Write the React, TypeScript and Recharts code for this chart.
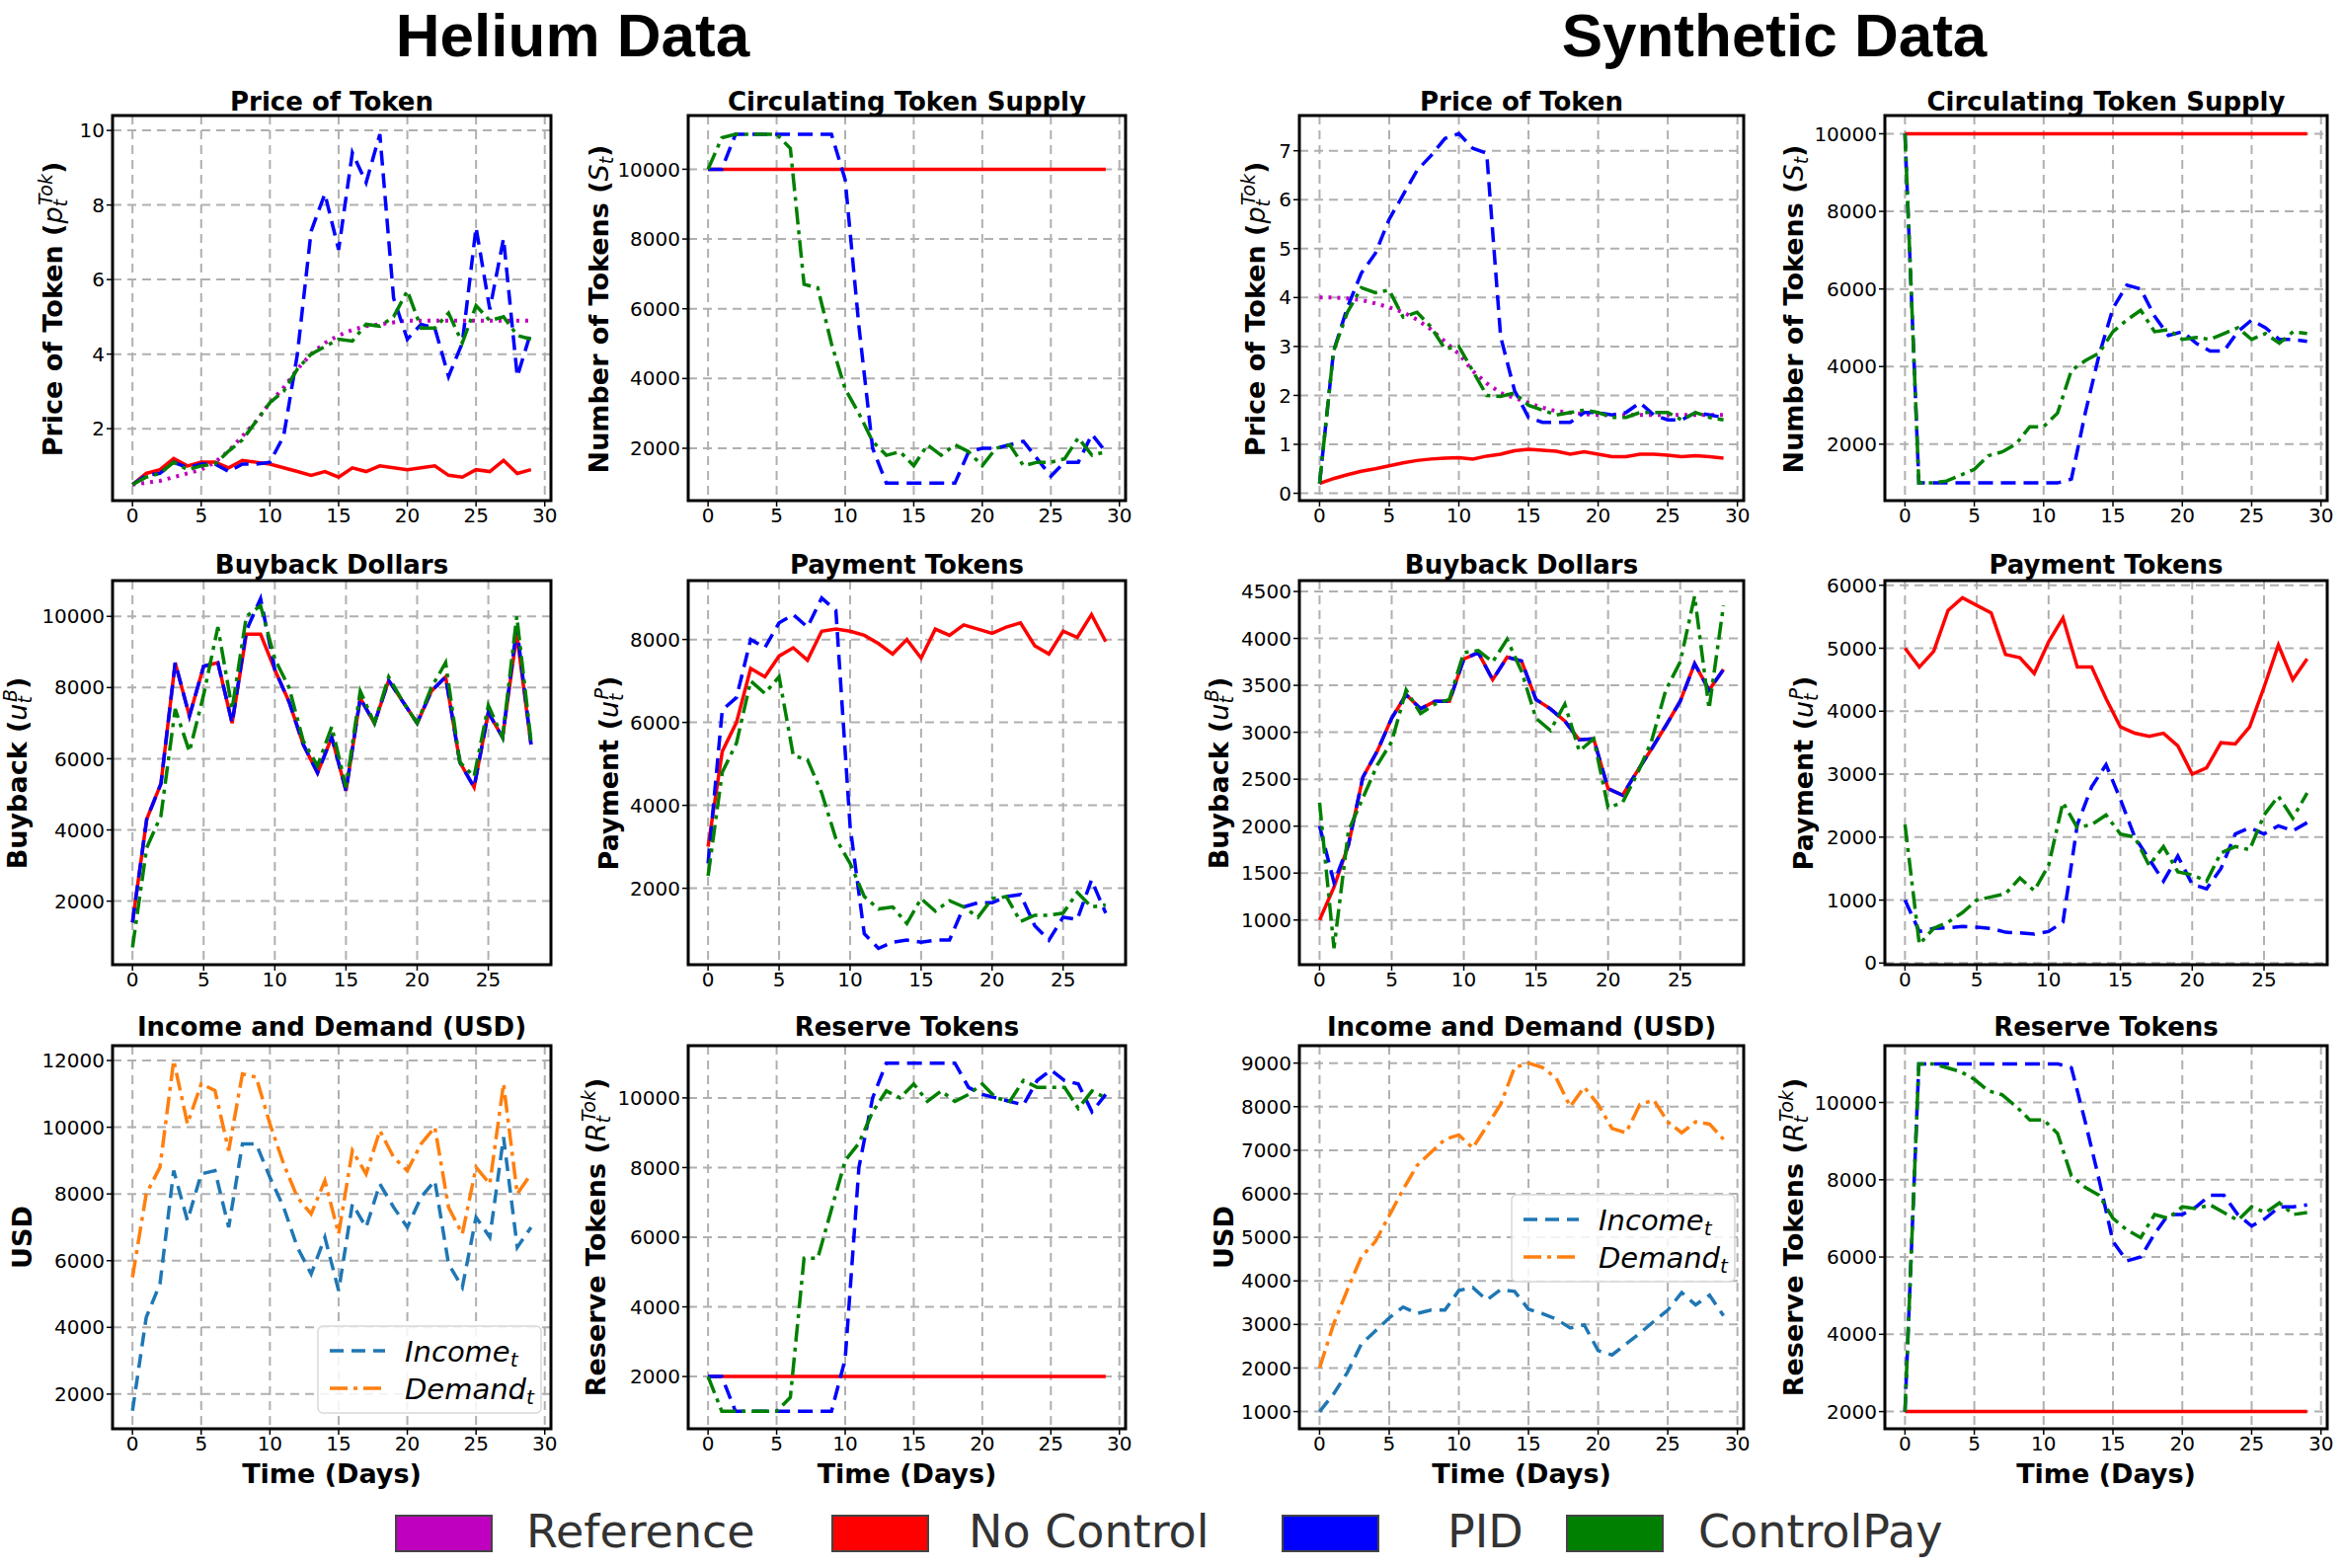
import React from 'react';
import { LineChart, Line, XAxis, YAxis, CartesianGrid } from 'recharts';

const FONT = 'DejaVu Sans, sans-serif';

// ---------- data ----------
const daysA = Array.from({ length: 30 }, (_, i) => i);
const daysB = Array.from({ length: 29 }, (_, i) => i);

const hePriceRef = [0.5,0.55,0.6,0.7,0.8,0.9,1.1,1.4,1.8,2.2,2.7,3.1,3.6,4.0,4.3,4.5,4.65,4.75,4.8,4.85,4.9,4.9,4.9,4.9,4.9,4.9,4.9,4.9,4.9,4.9];
const hePriceNo = [0.5,0.8,0.9,1.2,1.0,1.1,1.1,0.95,1.15,1.1,1.05,0.95,0.85,0.75,0.85,0.7,0.95,0.85,1.0,0.95,0.9,0.95,1.0,0.75,0.7,0.9,0.85,1.15,0.8,0.9];
const hePricePid = [0.5,0.75,0.8,1.1,0.95,1.05,1.05,0.85,1.05,1.05,1.1,1.8,4.0,7.3,8.3,6.8,9.4,8.6,9.9,5.5,4.4,4.8,4.7,3.4,4.3,7.4,5.2,7.1,3.4,4.6];
const hePriceCp = [0.5,0.7,0.8,1.1,0.9,1.0,1.05,1.4,1.7,2.2,2.7,3.0,3.6,4.0,4.2,4.4,4.35,4.8,4.75,5.0,5.7,4.7,4.7,5.1,4.3,5.3,4.9,5.0,4.5,4.4];

const heSupplyNo = Array(30).fill(10000);
const heSupplyPid = [10000,10000,11000,11000,11000,11000,11000,11000,11000,11000,9700,5500,2000,1000,1000,1000,1000,1000,1000,1900,2000,2000,2100,2200,1700,1200,1600,1600,2400,1900];
const heSupplyCp = [10000,10900,11000,11000,11000,11000,10600,6700,6600,5000,3700,3000,2200,1800,1900,1500,2100,1800,2100,1900,1500,2000,2100,1500,1600,1600,1700,2300,1800,1900];

const syPriceRef = [4.0,4.0,3.98,3.95,3.88,3.8,3.7,3.55,3.35,3.1,2.85,2.5,2.25,2.05,1.95,1.85,1.75,1.68,1.65,1.62,1.6,1.6,1.6,1.6,1.6,1.6,1.6,1.6,1.6,1.6];
const syPriceNo = [0.2,0.3,0.38,0.45,0.5,0.56,0.62,0.67,0.7,0.72,0.73,0.7,0.76,0.8,0.87,0.9,0.88,0.86,0.8,0.85,0.8,0.75,0.75,0.8,0.8,0.78,0.75,0.77,0.75,0.72];
const syPricePid = [0.2,2.9,3.8,4.5,4.9,5.6,6.1,6.6,6.9,7.25,7.35,7.05,6.95,3.2,2.1,1.55,1.45,1.45,1.45,1.65,1.65,1.6,1.65,1.85,1.6,1.5,1.5,1.65,1.6,1.55];
const syPriceCp = [0.2,2.9,3.7,4.2,4.1,4.15,3.6,3.7,3.4,2.95,3.0,2.5,2.0,1.98,2.05,1.8,1.7,1.6,1.65,1.7,1.65,1.55,1.55,1.65,1.65,1.65,1.5,1.65,1.55,1.5];

const sySupplyNo = Array(30).fill(10000);
const sySupplyPid = [10000,1000,1000,1000,1000,1000,1000,1000,1000,1000,1000,1000,1100,2800,4300,5500,6100,6000,5300,4800,4900,4600,4400,4400,4900,5200,5000,4700,4700,4650];
const sySupplyCp = [10000,1000,1000,1050,1200,1350,1700,1800,2000,2450,2450,2800,3900,4150,4350,4900,5200,5450,4900,4950,4700,4750,4700,4850,5000,4700,4850,4600,4900,4850];

const heBuyNo = [1400,4300,5300,8700,7200,8600,8700,7000,9500,9500,8500,7600,6400,5600,6600,5100,7700,7000,8200,7600,7000,7900,8300,5900,5200,7300,6600,9500,6400];
const heBuyPid = [1400,4300,5300,8700,7200,8600,8700,7000,9600,10500,8500,7600,6400,5600,6600,5100,7700,7000,8200,7600,7000,7900,8300,5900,5200,7300,6600,9700,6400];
const heBuyCp = [700,3500,4400,7400,6200,7800,9700,7400,10000,10300,8800,8000,6500,5800,6900,5200,7900,7000,8300,7600,7000,8000,8700,5900,5500,7500,6600,10000,6500];

const hePayNo = [3000,5300,6000,7300,7100,7600,7800,7500,8200,8250,8200,8100,7900,7650,8000,7550,8250,8100,8350,8250,8150,8300,8400,7850,7650,8200,8050,8600,7950];
const hePayPid = [2600,6300,6600,8000,7800,8400,8600,8300,9000,8700,3500,900,550,700,750,700,750,750,1550,1650,1650,1800,1850,1100,750,1300,1250,2200,1400];
const hePayCp = [2300,4800,5500,7000,6700,7100,5200,5100,4300,3200,2600,1800,1500,1550,1150,1750,1450,1700,1550,1300,1750,1800,1200,1350,1350,1400,1900,1550,1600];

const syBuyNo = [1000,1350,1800,2520,2800,3150,3400,3250,3330,3330,3780,3850,3560,3800,3760,3350,3250,3120,2920,2930,2400,2330,2580,2820,3070,3330,3730,3450,3670];
const syBuyPid = [2000,1400,1800,2520,2800,3150,3400,3250,3330,3330,3780,3850,3560,3800,3760,3350,3250,3120,2920,2930,2400,2330,2580,2820,3070,3330,3730,3450,3670];
const syBuyCp = [2250,700,1950,2300,2650,2900,3450,3200,3300,3350,3850,3870,3750,3990,3650,3150,3020,3300,2800,2930,2200,2250,2550,2900,3450,3750,4450,3250,4350];

const syPayNo = [5000,4700,4950,5600,5800,5680,5560,4900,4850,4600,5100,5480,4700,4700,4200,3750,3650,3600,3650,3450,3000,3100,3500,3480,3750,4380,5050,4500,4830];
const syPayPid = [1000,500,550,560,580,570,550,490,480,460,500,650,2200,2800,3150,2600,2000,1650,1300,1700,1250,1180,1500,2050,2150,2050,2180,2100,2230];
const syPayCp = [2200,300,550,650,800,1000,1050,1100,1350,1150,1550,2550,2150,2200,2350,2050,2000,1550,1850,1450,1400,1300,1750,1850,1800,2350,2650,2300,2700];

const heIncome = [1500,4300,5300,8700,7200,8600,8700,7000,9500,9500,8500,7600,6400,5600,6700,5100,7700,7000,8300,7600,7000,7900,8400,5900,5200,7300,6700,9700,6400,7000];
const heDemand = [5500,8000,8800,12000,10100,11300,11100,9300,11600,11500,10100,8900,7900,7400,8400,6800,9300,8600,9900,9100,8700,9500,10000,7600,6800,8800,8300,11300,8000,8600];

const heResNo = Array(30).fill(2000);
const heResPid = [2000,2000,1000,1000,1000,1000,1000,1000,1000,1000,2500,8000,10000,11000,11000,11000,11000,11000,11000,10300,10100,10000,9900,9800,10500,10800,10500,10400,9600,10100];
const heResCp = [2000,1000,1000,1000,1000,1000,1400,5400,5400,6800,8200,8700,9600,10200,10000,10400,9900,10200,9900,10100,10400,10000,9900,10500,10300,10300,10300,9700,10200,10000];

const syIncome = [1000,1400,1900,2550,2850,3150,3400,3250,3330,3330,3780,3850,3560,3800,3760,3350,3250,3120,2920,2990,2400,2300,2550,2800,3070,3330,3730,3450,3670,3200];
const syDemand = [2000,3000,3800,4550,4900,5500,6100,6650,6950,7250,7350,7050,7550,8050,8900,9000,8900,8650,8000,8450,8050,7500,7400,8050,8150,7650,7400,7650,7600,7250];

const syResNo = Array(30).fill(2000);
const syResPid = [2000,11000,11000,11000,11000,11000,11000,11000,11000,11000,11000,11000,10900,9500,8000,6400,5900,6000,6600,7100,7100,7300,7600,7600,7100,6800,7000,7300,7300,7350];
const syResCp = [2000,11000,11000,10900,10800,10600,10300,10200,9900,9550,9550,9200,8100,7800,7600,7000,6700,6500,7100,7000,7300,7250,7350,7150,6950,7300,7150,7400,7100,7150];

const ticksX30 = [0, 5, 10, 15, 20, 25, 30];
const ticksX25 = [0, 5, 10, 15, 20, 25];
const legendNames = ['Reference', 'No Control', 'PID', 'ControlPay'];

// ---------- styles ----------
const REF = { color: '#bf00bf', dash: '3 6', width: 4 };
const NO = { color: '#ff0000', dash: undefined as string | undefined, width: 3.5 };
const PID = { color: '#0000ff', dash: '15 8', width: 3.5 };
const CP = { color: '#008000', dash: '18 6 4 6', width: 3.5 };
const INC = { color: '#1f77b4', dash: '14 8', width: 3.5 };
const DEM = { color: '#ff7f0e', dash: '18 6 4 6', width: 3.5 };

const COLS = [[114, 558], [697, 1140], [1316, 1766], [1909, 2357]];
const ROWS = [[117, 507], [588, 977], [1059, 1447]];

type S = { values: number[]; st: { color: string; dash?: string; width: number } };
type P = { col: number; row: number; title: string; xs: number[]; xDomain: number[]; xTicks: number[]; yDomain: number[]; yTicks: number[]; series: S[] };

const range = (a: number, b: number, s: number) => { const r: number[] = []; for (let v = a; v <= b + 1e-9; v += s) r.push(v); return r; };

const panels: P[] = [
  { col: 0, row: 0, title: 'Price of Token', xs: daysA, xDomain: [-1.45, 30.45], xTicks: ticksX30, yDomain: [0.07, 10.4], yTicks: [2, 4, 6, 8, 10],
    series: [{ values: hePriceRef, st: REF }, { values: hePriceNo, st: NO }, { values: hePricePid, st: PID }, { values: hePriceCp, st: CP }] },
  { col: 1, row: 0, title: 'Circulating Token Supply', xs: daysA, xDomain: [-1.45, 30.45], xTicks: ticksX30, yDomain: [500, 11540], yTicks: range(2000, 10000, 2000),
    series: [{ values: heSupplyNo, st: NO }, { values: heSupplyPid, st: PID }, { values: heSupplyCp, st: CP }] },
  { col: 2, row: 0, title: 'Price of Token', xs: daysA, xDomain: [-1.45, 30.45], xTicks: ticksX30, yDomain: [-0.15, 7.72], yTicks: range(0, 7, 1),
    series: [{ values: syPriceRef, st: REF }, { values: syPriceNo, st: NO }, { values: syPricePid, st: PID }, { values: syPriceCp, st: CP }] },
  { col: 3, row: 0, title: 'Circulating Token Supply', xs: daysA, xDomain: [-1.45, 30.45], xTicks: ticksX30, yDomain: [545, 10470], yTicks: range(2000, 10000, 2000),
    series: [{ values: sySupplyNo, st: NO }, { values: sySupplyPid, st: PID }, { values: sySupplyCp, st: CP }] },
  { col: 0, row: 1, title: 'Buyback Dollars', xs: daysB, xDomain: [-1.4, 29.4], xTicks: ticksX25, yDomain: [214, 11005], yTicks: range(2000, 10000, 2000),
    series: [{ values: heBuyNo, st: NO }, { values: heBuyPid, st: PID }, { values: heBuyCp, st: CP }] },
  { col: 1, row: 1, title: 'Payment Tokens', xs: daysB, xDomain: [-1.4, 29.4], xTicks: ticksX25, yDomain: [157, 9420], yTicks: range(2000, 8000, 2000),
    series: [{ values: hePayNo, st: NO }, { values: hePayPid, st: PID }, { values: hePayCp, st: CP }] },
  { col: 2, row: 1, title: 'Buyback Dollars', xs: daysB, xDomain: [-1.4, 29.4], xTicks: ticksX25, yDomain: [524, 4616], yTicks: range(1000, 4500, 500),
    series: [{ values: syBuyNo, st: NO }, { values: syBuyPid, st: PID }, { values: syBuyCp, st: CP }] },
  { col: 3, row: 1, title: 'Payment Tokens', xs: daysB, xDomain: [-1.4, 29.4], xTicks: ticksX25, yDomain: [-26, 6074], yTicks: range(0, 6000, 1000),
    series: [{ values: syPayNo, st: NO }, { values: syPayPid, st: PID }, { values: syPayCp, st: CP }] },
  { col: 0, row: 2, title: 'Income and Demand (USD)', xs: daysA, xDomain: [-1.45, 30.45], xTicks: ticksX30, yDomain: [960, 12445], yTicks: range(2000, 12000, 2000),
    series: [{ values: heIncome, st: INC }, { values: heDemand, st: DEM }] },
  { col: 1, row: 2, title: 'Reserve Tokens', xs: daysA, xDomain: [-1.45, 30.45], xTicks: ticksX30, yDomain: [500, 11500], yTicks: range(2000, 10000, 2000),
    series: [{ values: heResNo, st: NO }, { values: heResPid, st: PID }, { values: heResCp, st: CP }] },
  { col: 2, row: 2, title: 'Income and Demand (USD)', xs: daysA, xDomain: [-1.45, 30.45], xTicks: ticksX30, yDomain: [605, 9400], yTicks: range(1000, 9000, 1000),
    series: [{ values: syIncome, st: INC }, { values: syDemand, st: DEM }] },
  { col: 3, row: 2, title: 'Reserve Tokens', xs: daysA, xDomain: [-1.45, 30.45], xTicks: ticksX30, yDomain: [1555, 11470], yTicks: range(2000, 10000, 2000),
    series: [{ values: syResNo, st: NO }, { values: syResPid, st: PID }, { values: syResCp, st: CP }] },
];

const L = 90, T = 4, R = 16, B = 40;

function Panel({ p }: { p: P }) {
  const [x0, x1] = COLS[p.col];
  const [y0, y1] = ROWS[p.row];
  const data = p.xs.map((t, i) => {
    const row: any = { t };
    p.series.forEach((s, k) => { row['s' + k] = s.values[i]; });
    return row;
  });
  return (
    <div style={{ position: 'absolute', left: x0 - L, top: y0 - T }}>
      <LineChart width={x1 - x0 + L + R} height={y1 - y0 + T + B} data={data} margin={{ top: T, right: R, left: 0, bottom: 0 }}>
        <CartesianGrid stroke="#b0b0b0" strokeWidth={2} strokeDasharray="9 6" verticalValues={p.xTicks} horizontalValues={p.yTicks} />
        <XAxis dataKey="t" type="number" domain={p.xDomain} ticks={p.xTicks} allowDataOverflow height={B} axisLine={false}
          tickLine={{ stroke: '#000', strokeWidth: 1.5 }} tickSize={6} tick={{ fill: '#000', fontSize: 20, fontFamily: FONT }} interval={0} />
        <YAxis type="number" domain={p.yDomain} ticks={p.yTicks} allowDataOverflow width={L} axisLine={false}
          tickLine={{ stroke: '#000', strokeWidth: 1.5 }} tickSize={6} tick={{ fill: '#000', fontSize: 20, fontFamily: FONT }} interval={0} />
        {p.series.map((s, k) => (
          <Line key={k} dataKey={'s' + k} type="linear" stroke={s.st.color} strokeWidth={s.st.width} strokeDasharray={s.st.dash}
            dot={false} activeDot={false} isAnimationActive={false} />
        ))}
      </LineChart>
    </div>
  );
}

type Part = [string, string];
const yLabels: { x: number; y: number; parts: Part[] }[] = [
  { x: 54, y: 313, parts: [['b', 'Price of Token ('], ['i', 'p'], ['sub', 't'], ['sup', 'Tok'], ['b', ')']] },
  { x: 607, y: 313, parts: [['b', 'Number of Tokens ('], ['i', 'S'], ['sub', 't'], ['b', ')']] },
  { x: 1272, y: 313, parts: [['b', 'Price of Token ('], ['i', 'p'], ['sub', 't'], ['sup', 'Tok'], ['b', ')']] },
  { x: 1817, y: 313, parts: [['b', 'Number of Tokens ('], ['i', 'S'], ['sub', 't'], ['b', ')']] },
  { x: 18, y: 783, parts: [['b', 'Buyback ('], ['i', 'u'], ['sub', 't'], ['sup', 'B'], ['b', ')']] },
  { x: 617, y: 783, parts: [['b', 'Payment ('], ['i', 'u'], ['sub', 't'], ['sup', 'P'], ['b', ')']] },
  { x: 1235, y: 783, parts: [['b', 'Buyback ('], ['i', 'u'], ['sub', 't'], ['sup', 'B'], ['b', ')']] },
  { x: 1827, y: 783, parts: [['b', 'Payment ('], ['i', 'u'], ['sub', 't'], ['sup', 'P'], ['b', ')']] },
  { x: 23, y: 1253, parts: [['b', 'USD']] },
  { x: 604, y: 1253, parts: [['b', 'Reserve Tokens ('], ['i', 'R'], ['sub', 't'], ['sup', 'Tok'], ['b', ')']] },
  { x: 1240, y: 1253, parts: [['b', 'USD']] },
  { x: 1817, y: 1253, parts: [['b', 'Reserve Tokens ('], ['i', 'R'], ['sub', 't'], ['sup', 'Tok'], ['b', ')']] },
];

function renderParts(parts: Part[]) {
  return parts.map(([k, s], i) => {
    if (k === 'b') return <tspan key={i} fontWeight="bold">{s}</tspan>;
    if (k === 'i') return <tspan key={i} fontStyle="italic" fontWeight="normal">{s}</tspan>;
    if (k === 'sub') return <tspan key={i} fontStyle="italic" fontWeight="normal" fontSize={19} baselineShift="-25%">{s}</tspan>;
    return <tspan key={i} fontStyle="italic" fontWeight="normal" fontSize={19} baselineShift="55%" dx={-6}>{s}</tspan>;
  });
}

function SmallLegend({ x, y }: { x: number; y: number }) {
  return (
    <g>
      <rect x={x} y={y} width={226} height={88} rx={5} fill="rgba(255,255,255,0.85)" stroke="#d8d8d8" strokeWidth={1.5} />
      <line x1={x + 12} x2={x + 68} y1={y + 25} y2={y + 25} stroke={INC.color} strokeWidth={3.5} strokeDasharray="14 8" />
      <line x1={x + 12} x2={x + 68} y1={y + 63} y2={y + 63} stroke={DEM.color} strokeWidth={3.5} strokeDasharray="18 6 4 6" />
      <text x={x + 88} y={y + 36} fontSize={29} fontStyle="italic" fontFamily={FONT}>Income<tspan fontSize={20} baselineShift="-25%">t</tspan></text>
      <text x={x + 88} y={y + 74} fontSize={29} fontStyle="italic" fontFamily={FONT}>Demand<tspan fontSize={20} baselineShift="-25%">t</tspan></text>
    </g>
  );
}

const legendColors = [REF.color, NO.color, PID.color, CP.color];
const legendBoxX = [401, 843, 1299, 1587];
const legendTextX = [533, 981, 1466, 1720];

export default function App() {
  const titleY = [112, 581, 1049];
  return (
    <div style={{ position: 'fixed', left: 0, top: 0, width: 2374, height: 1588, background: '#fff', fontFamily: FONT }}>
      {panels.map((p, i) => <Panel key={i} p={p} />)}
      <svg width={2374} height={1588} style={{ position: 'absolute', left: 0, top: 0, pointerEvents: 'none' }} fontFamily={FONT}>
        <text x={580} y={57} textAnchor="middle" fontSize={62} fontWeight="bold" fontFamily="Liberation Sans, Arial, sans-serif">Helium Data</text>
        <text x={1797} y={57} textAnchor="middle" fontSize={62} fontWeight="bold" fontFamily="Liberation Sans, Arial, sans-serif">Synthetic Data</text>
        {panels.map((p, i) => {
          const [x0, x1] = COLS[p.col];
          const [y0, y1] = ROWS[p.row];
          return (
            <g key={i}>
              <rect x={x0} y={y0} width={x1 - x0} height={y1 - y0} fill="none" stroke="#000" strokeWidth={3} />
              <text x={(x0 + x1) / 2} y={titleY[p.row]} textAnchor="middle" fontSize={26} fontWeight="bold">{p.title}</text>
              {p.row === 2 && <text x={(x0 + x1) / 2} y={1502} textAnchor="middle" fontSize={27} fontWeight="bold">Time (Days)</text>}
            </g>
          );
        })}
        {yLabels.map((l, i) => (
          <text key={i} x={0} y={0} transform={`translate(${l.x + 9},${l.y}) rotate(-90)`} textAnchor="middle" fontSize={27}>{renderParts(l.parts)}</text>
        ))}
        <SmallLegend x={322} y={1343} />
        <SmallLegend x={1531} y={1210} />
        {legendNames.map((n, i) => (
          <g key={n}>
            <rect x={legendBoxX[i]} y={1535} width={97} height={36} fill={legendColors[i]} stroke="#444" strokeWidth={2} />
            <text x={legendTextX[i]} y={1567} fontSize={46} fill="#333">{n}</text>
          </g>
        ))}
      </svg>
    </div>
  );
}
